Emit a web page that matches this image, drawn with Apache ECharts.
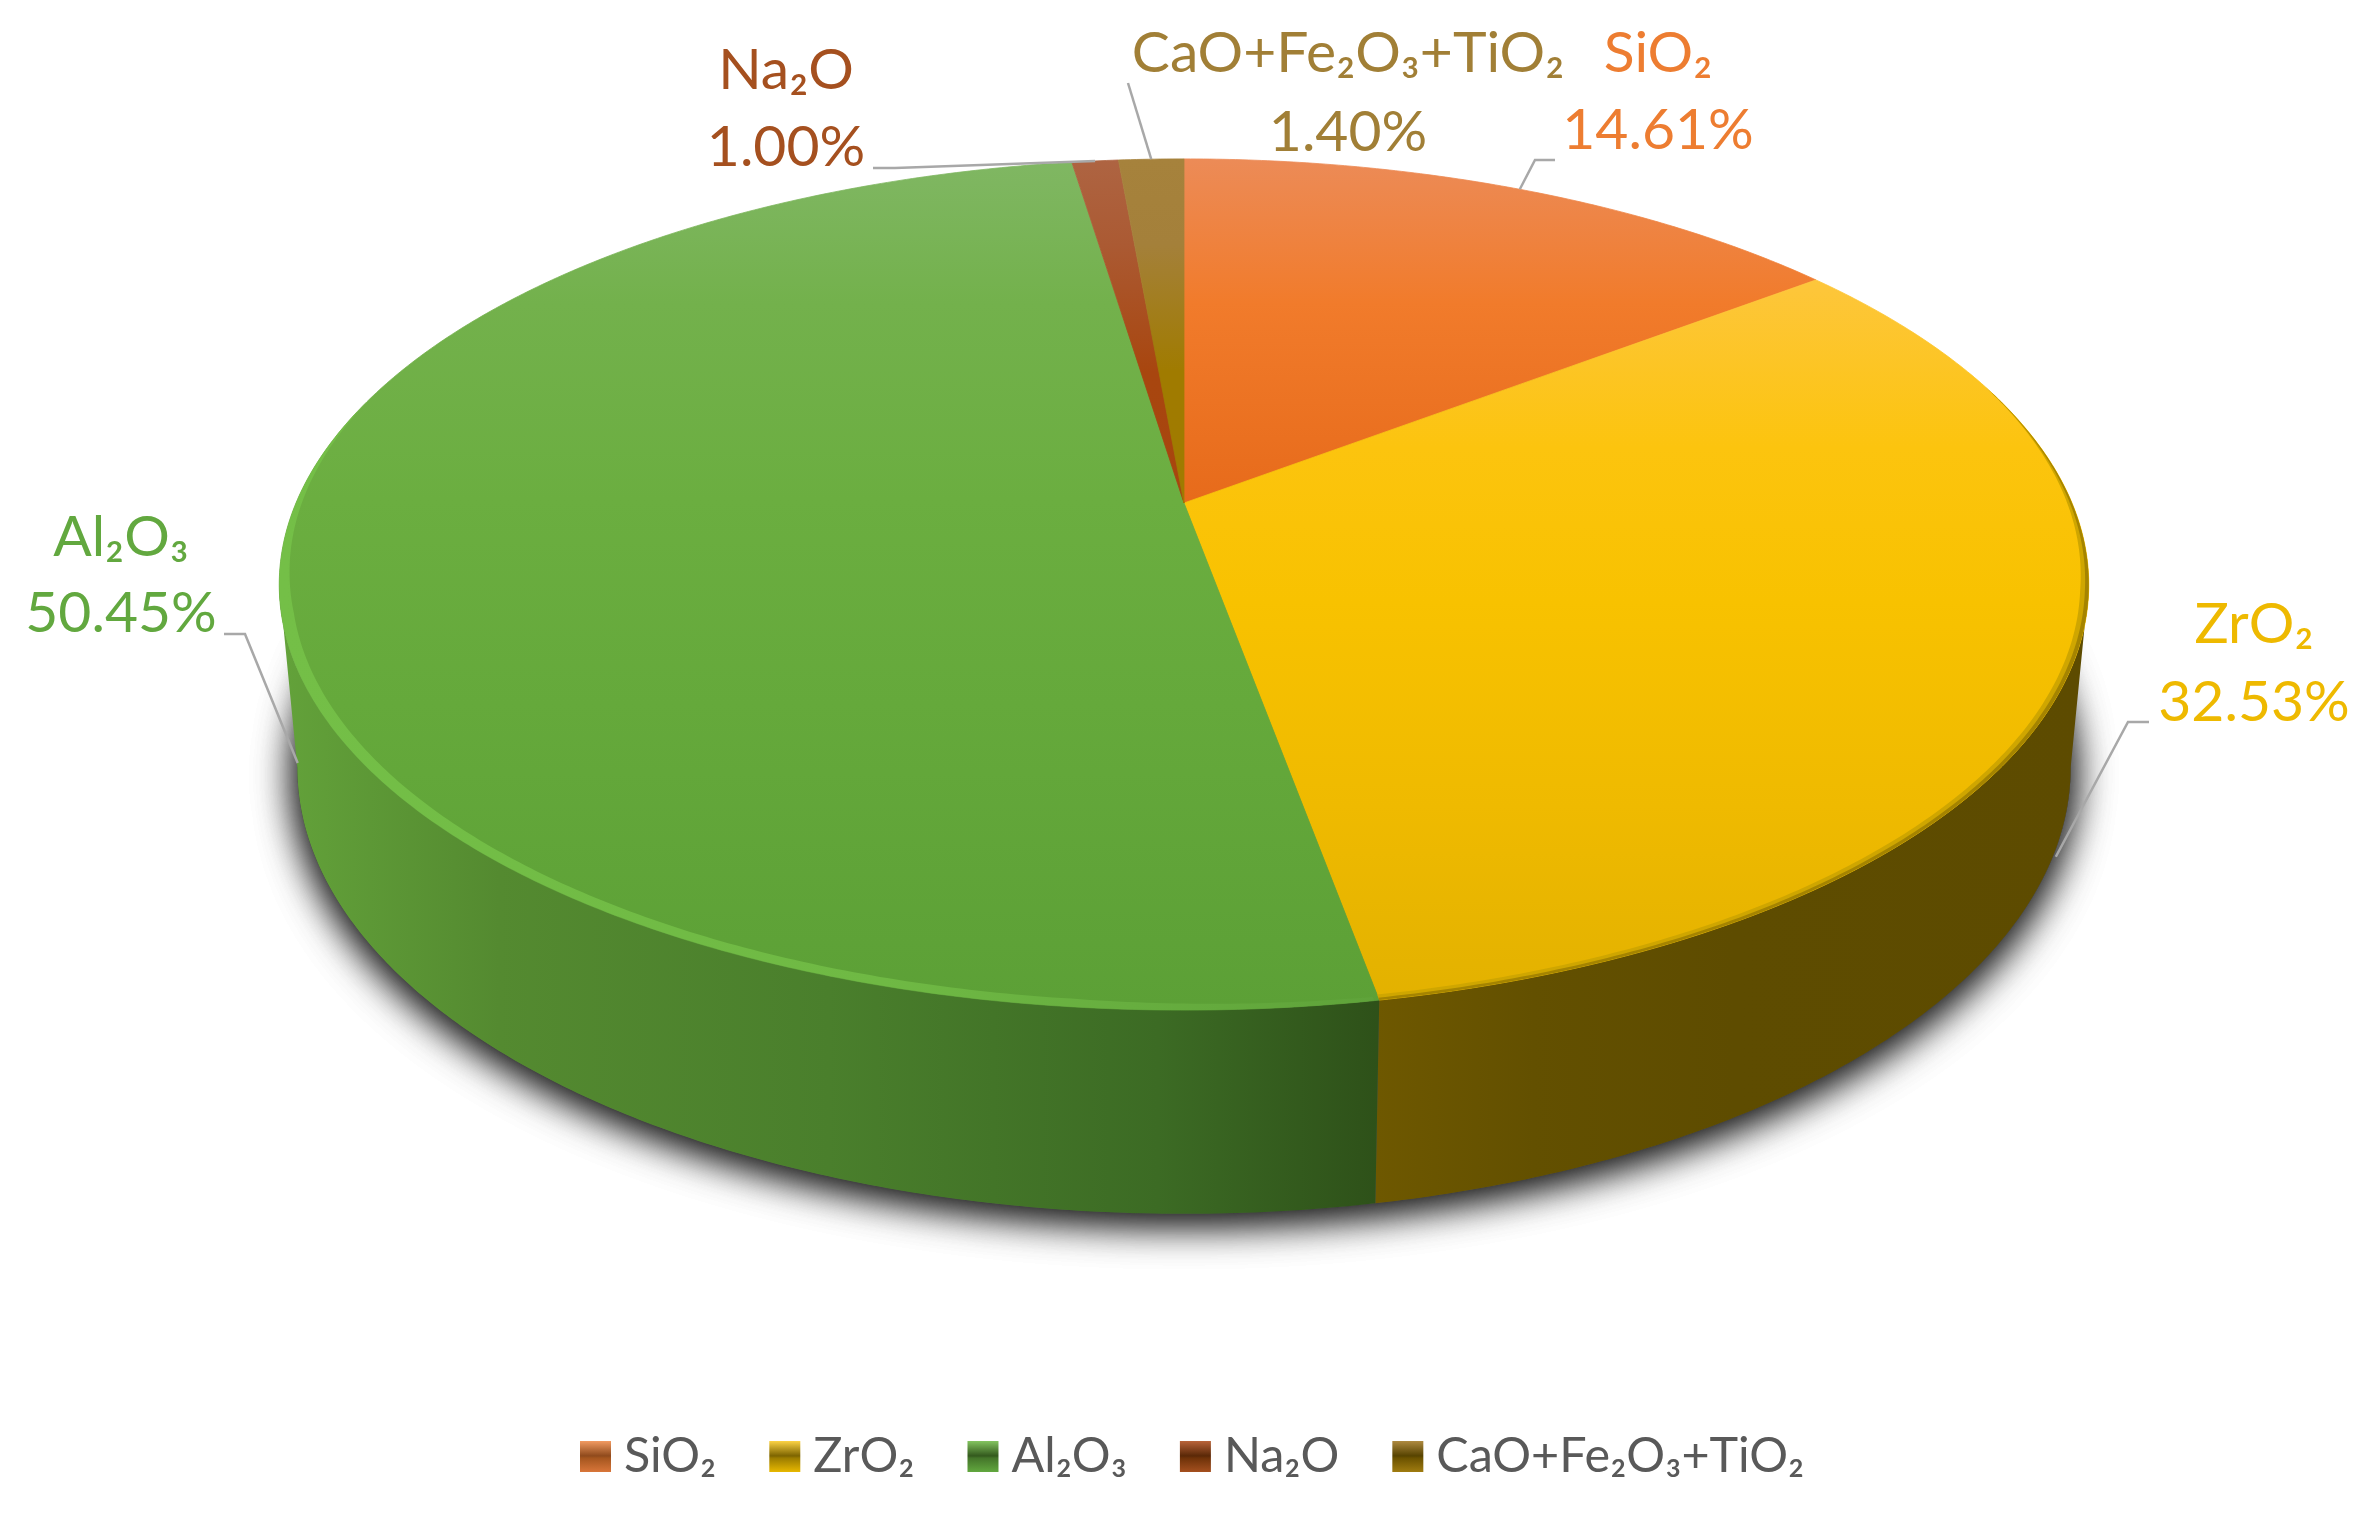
<!DOCTYPE html>
<html><head><meta charset="utf-8">
<style>html,body{margin:0;padding:0;background:#fff}#c{width:2374px;height:1535px}</style>
<script src="https://cdn.jsdelivr.net/npm/echarts@6/dist/echarts.min.js"></script>
</head><body><div id="c"></div>
<script>
// ---- data ----
const categories = ['SiO₂', 'ZrO₂', 'Al₂O₃', 'Na₂O', 'CaO+Fe₂O₃+TiO₂'];
const shares = [14.61, 32.53, 50.45, 1.00, 1.40];

// ---- style ----
const FONT = 'Lato, "Open Sans", "DejaVu Sans", sans-serif';
const labelColors = ['#ed7d31', '#eeb900', '#62a83f', '#a5501f', '#a17f36'];
const faceStops = [
  [[0, '#ec8b57'], [0.17, '#f17b2b'], [0.4, '#e76b1b'], [1, '#d95f12']],
  [[0, '#fecb55'], [0.15, '#fdc63a'], [0.34, '#fcc40e'], [0.52, '#f8c200'], [0.76, '#efba00'], [1, '#e2b100']],
  [[0, '#80b763'], [0.17, '#73b14c'], [0.4, '#6bae40'], [0.64, '#65a93b'], [1, '#5ca036']],
  [[0, '#ae6442'], [0.1, '#ab5a33'], [0.25, '#a8460f'], [1, '#a8420a']],
  [[0, '#a6823c'], [0.1, '#a4803a'], [0.25, '#a07b00'], [1, '#a07a00']]
];
const sideStops = [
  null,
  [[0, '#6e5800'], [0.22, '#635000'], [0.5, '#5e4c00'], [1, '#5d4b00']],
  [[0, '#63a23a'], [0.2, '#548a30'], [0.5, '#4a7f2c'], [0.8, '#3c6b24'], [1, '#2e5119']],
  null, null
];
const sideRange = [null, [1377, 2091], [280, 1377], null, null];
const rimBands = [
  [],
  [{ from: 72, to: 170, t: 0.009, color: '#cfa600' }, { from: 72, to: 170, t: 0.004, color: '#a58400' }],
  [{ from: 170, to: 285, t: 0.013, grad: [[0, '#74bf47'], [0.55, '#6fb944'], [1, '#5fa33a']] }],
  [], []
];
const legendStops = [
  [[0, '#f29b62'], [0.48, '#8f4a1c'], [0.55, '#a5561f'], [1, '#d9763a']],
  [[0, '#fdd445'], [0.48, '#7d6400'], [0.55, '#9b7c00'], [1, '#e8b800']],
  [[0, '#84c560'], [0.48, '#33591d'], [0.55, '#44752a'], [1, '#62a83f']],
  [[0, '#b9643a'], [0.48, '#5a2807'], [0.55, '#6e3209'], [1, '#a5501f']],
  [[0, '#ae8a40'], [0.48, '#574300'], [0.55, '#6b5200'], [1, '#a07c10']]
];
// label centres and leader elbow (layout only)
const labelLayout = [
  { x: 1658, y1: 54, y2: 131, elbow: [1535, 160], end: [1555, 160], level: 0 },
  { x: 2254, y1: 625, y2: 703, elbow: [2128, 722], end: [2149, 722], level: 1 },
  { x: 121, y1: 538, y2: 614, elbow: [245, 634], end: [224, 634], level: 1 },
  { x: 786, y1: 71, y2: 148, elbow: [895, 168], end: [873, 168], level: 0 },
  { x: 1348, y1: 54, y2: 133, elbow: null, end: [1128, 83], level: 0 }
];
// perspective disc: top rim and lower rim
const G = { cx: 1184, cy: 503, A: 888, B: 410, k: 0.1915, depth: 179, s: 0.98, Q: 430 };
const rad = d => d * Math.PI / 180;
// the wall is visible only between the two silhouette tangents
const tangentDeg = Math.acos(-G.k) * 180 / Math.PI;
function pt(deg, r, level) {
  const u = r * Math.sin(rad(deg)), v = r * Math.cos(rad(deg)), w = 1 + G.k * v;
  if (level) return [G.cx + G.s * G.A * u / w, G.cy + G.depth - G.Q * v / w];
  return [G.cx + G.A * u / w, G.cy - G.B * v / w];
}
function arc(a, b, r, level) {
  const out = [], n = Math.max(2, Math.ceil(Math.abs(b - a) * 2));
  for (let i = 0; i <= n; i++) out.push(pt(a + (b - a) * i / n, r, level));
  return out;
}
const total = shares.reduce((p, c) => p + c, 0);
const grad = (x, y, x2, y2, stops) => ({
  type: 'linear', x, y, x2, y2, global: true,
  colorStops: stops.map(s => ({ offset: s[0], color: s[1] }))
});

function makeRender(idx) {
  return function (params, api) {
    const val = api.value(0);
    const before = shares.slice(0, idx).reduce((p, c) => p + c, 0);
    const a = before / total * 360, b = (before + val) / total * 360, mid = (a + b) / 2;
    const kids = [];
    // soft drop shadow below the body
    if (idx === 2) {
      [1, 2].forEach(n => kids.push({
        type: 'polygon', z2: n, silent: true,
        shape: { points: arc(0, 360, 1, 1) },
        style: { fill: '#555', shadowBlur: 40, shadowColor: 'rgba(0,0,0,0.78)', shadowOffsetY: 7 }
      }));
    }
    // wall
    const wa = Math.max(a, tangentDeg), wb = Math.min(b, 360 - tangentDeg);
    if (sideStops[idx] && wb > wa) {
      const pts = arc(wa, wb, 1, 0).concat(arc(wb, wa, 1, 1));
      kids.push({
        type: 'polygon', z2: 5, shape: { points: pts },
        style: { fill: grad(sideRange[idx][0], 0, sideRange[idx][1], 0, sideStops[idx]) }
      });
    }
    // top face
    const fill = grad(0, 159, 0, 1010, faceStops[idx]);
    kids.push({
      type: 'polygon', z2: 10,
      shape: { points: [[G.cx, G.cy]].concat(arc(a, b, 1, 0)) },
      style: { fill, stroke: fill, lineWidth: 0.8 }
    });
    // rim bevel
    rimBands[idx].forEach((bd, i) => {
      const from = Math.max(bd.from, a), to = Math.min(bd.to, b);
      const outer = arc(from, to, 1, 0), n = outer.length - 1, inner = [];
      for (let j = n; j >= 0; j--) {
        const d = from + (to - from) * j / n;
        const taper = idx === 2 ? Math.min(1, Math.min(d - from + 14, to - d) / 30) : Math.min(1, (d - from) / 30);
        inner.push(pt(d, 1 - bd.t * Math.max(0, taper), 0));
      }
      kids.push({
        type: 'polygon', z2: 11 + i, silent: true, shape: { points: outer.concat(inner) },
        style: { fill: bd.grad ? grad(280, 0, 1377, 0, bd.grad) : bd.color }
      });
    });
    // leader
    const L = labelLayout[idx];
    const anchor = pt(mid, 1, L.level);
    if (L.level) anchor[1] += 8;
    const line = L.elbow ? [L.end, L.elbow, anchor] : [L.end, anchor];
    kids.push({
      type: 'polyline', z2: 20, silent: true, shape: { points: line },
      style: { fill: null, stroke: '#a8a8a8', lineWidth: 2.5 }
    });
    // labels
    kids.push({
      type: 'text', z2: 21, silent: true,
      style: { text: categories[idx], x: L.x, y: L.y1, fill: labelColors[idx], font: '400 57px ' + FONT, align: 'center', verticalAlign: 'middle' }
    });
    kids.push({
      type: 'text', z2: 21, silent: true,
      style: { text: val.toFixed(2) + '%', x: L.x, y: L.y2, fill: labelColors[idx], font: '400 57px ' + FONT, align: 'center', verticalAlign: 'middle' }
    });
    return { type: 'group', children: kids };
  };
}

const chart = echarts.init(document.getElementById('c'), null, { width: 2374, height: 1535, renderer: 'canvas' });
chart.setOption({
  backgroundColor: '#ffffff',
  animation: false,
  tooltip: { show: false },
  legend: {
    left: 575, top: 1427, orient: 'horizontal',
    selectedMode: false,
    itemWidth: 31, itemHeight: 31, itemGap: 53,
    textStyle: { fontFamily: FONT, fontSize: 48.5, color: '#595959', padding: [0, 0, 0, 8] },
    data: categories.map((name, i) => ({
      name, icon: 'rect',
      itemStyle: {
        borderWidth: 0,
        color: { type: 'linear', x: 0, y: 0, x2: 0, y2: 1, colorStops: legendStops[i].map(s => ({ offset: s[0], color: s[1] })) }
      }
    }))
  },
  series: categories.map((name, i) => ({
    type: 'custom', name, coordinateSystem: 'none',
    itemStyle: { color: labelColors[i] },
    data: [[shares[i]]],
    renderItem: makeRender(i)
  }))
});
</script></body></html>
